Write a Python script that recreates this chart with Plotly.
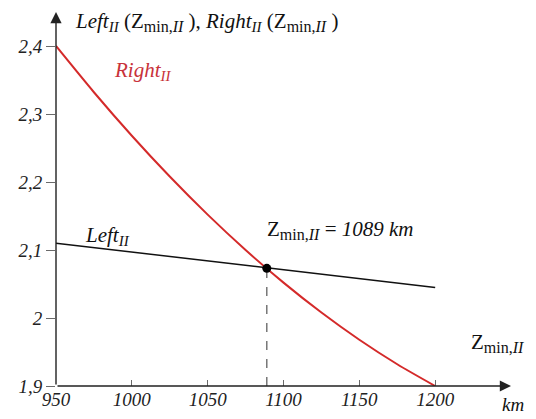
import plotly.graph_objects as go

# ---- data ----
z_km = [950, 975, 1000, 1025, 1050, 1075, 1100, 1125, 1150, 1175, 1200]
right_vals = [2.400, 2.332, 2.268, 2.208, 2.152, 2.100, 2.052, 2.008, 1.968, 1.932, 1.900]
left_z = [950, 1200]
left_vals = [2.110, 2.045]
z_min = 1089
z_min_val = 2.073

x_ticks = [950, 1000, 1050, 1100, 1150, 1200]
x_ticktext = ["<i>950</i>", "<i>1000</i>", "<i>1050</i>", "<i>1100</i>", "<i>1150</i>", "<i>1200</i>"]
y_ticks = [1.9, 2.0, 2.1, 2.2, 2.3, 2.4]
y_ticktext = ["<i>1,9</i>", "<i>2</i>", "<i>2,1</i>", "<i>2,2</i>", "<i>2,3</i>", "<i>2,4</i>"]

FONT = "Liberation Serif"
AX = "#6a6a6a"

fig = go.Figure()
fig.add_trace(go.Scatter(x=z_km, y=right_vals, mode="lines",
                         line=dict(color="#d42a2a", width=2, shape="spline", smoothing=0.8),
                         showlegend=False, hoverinfo="skip"))
fig.add_trace(go.Scatter(x=left_z, y=left_vals, mode="lines",
                         line=dict(color="#111111", width=1.5),
                         showlegend=False, hoverinfo="skip"))
fig.add_trace(go.Scatter(x=[z_min, z_min], y=[1.9, z_min_val], mode="lines",
                         line=dict(color="#555555", width=1.2, dash="dash"),
                         showlegend=False, hoverinfo="skip"))
fig.add_trace(go.Scatter(x=[z_min], y=[z_min_val], mode="markers",
                         marker=dict(color="#000000", size=9),
                         showlegend=False, hoverinfo="skip"))

anns = []
# axis arrows
anns.append(dict(x=1250, y=1.9, ax=950, ay=1.9, xref="x", yref="y", axref="x", ayref="y",
                 showarrow=True, arrowhead=2, arrowsize=1.6, arrowwidth=1.4,
                 arrowcolor="#222222", text=""))
anns.append(dict(x=950, y=2.45, ax=950, ay=1.9, xref="x", yref="y", axref="x", ayref="y",
                 showarrow=True, arrowhead=2, arrowsize=1.6, arrowwidth=1.4,
                 arrowcolor="#222222", text=""))

def txt(x, y, s, color="#111111", size=21, xanchor="left", yanchor="middle", xref="x", yref="y"):
    anns.append(dict(x=x, y=y, xref=xref, yref=yref, text=s, showarrow=False,
                     xanchor=xanchor, yanchor=yanchor,
                     font=dict(family=FONT, size=size, color=color)))

def sub(s, px):
    return "<sub><span style='font-size:%dpx'>%s</span></sub>" % (px, s)

II_SUB = sub("<i>II</i>", 15)
ZMIN = "Z" + sub("min,<i>II</i>", 16)
txt(961, 2.436, "<i>Left</i>" + II_SUB + " (" + ZMIN + " ), <i>Right</i>" + II_SUB
    + " (" + ZMIN + " )", size=21)
txt(1007, 2.363, "<i>Right</i>" + II_SUB, color="#c8323a", size=21, xanchor="center")
txt(984, 2.121, "<i>Left</i>" + II_SUB, size=21, xanchor="center")
txt(1088, 2.129, ZMIN + " = <i>" + str(z_min) + " km</i>", size=21, xanchor="left")
txt(1222, 1.963, ZMIN, size=21, xanchor="left")
txt(1.004, -0.05, "<i>km</i>", size=19, xanchor="center", xref="paper", yref="paper")

# page body has an 8px margin: figure placed at (8,8) in the 536x419 window
fig.update_layout(
    width=528, height=411,
    margin=dict(l=48, r=25, t=4, b=33),
    paper_bgcolor="white", plot_bgcolor="white",
    font=dict(family=FONT, size=18, color="#222222"),
    annotations=anns,
    xaxis=dict(range=[950, 1250], showgrid=False, zeroline=False, showline=False,
               tickvals=x_ticks, ticktext=x_ticktext, ticks="inside", ticklen=6,
               tickcolor=AX, tickwidth=1, automargin=False,
               tickfont=dict(family=FONT, size=19, color="#222222")),
    yaxis=dict(range=[1.9, 2.45], showgrid=False, zeroline=False, showline=False,
               tickvals=y_ticks, ticktext=y_ticktext, ticks="outside", ticklen=9,
               tickcolor=AX, tickwidth=1, automargin=False,
               tickfont=dict(family=FONT, size=19, color="#222222")),
)

fig.write_html("out.html")
